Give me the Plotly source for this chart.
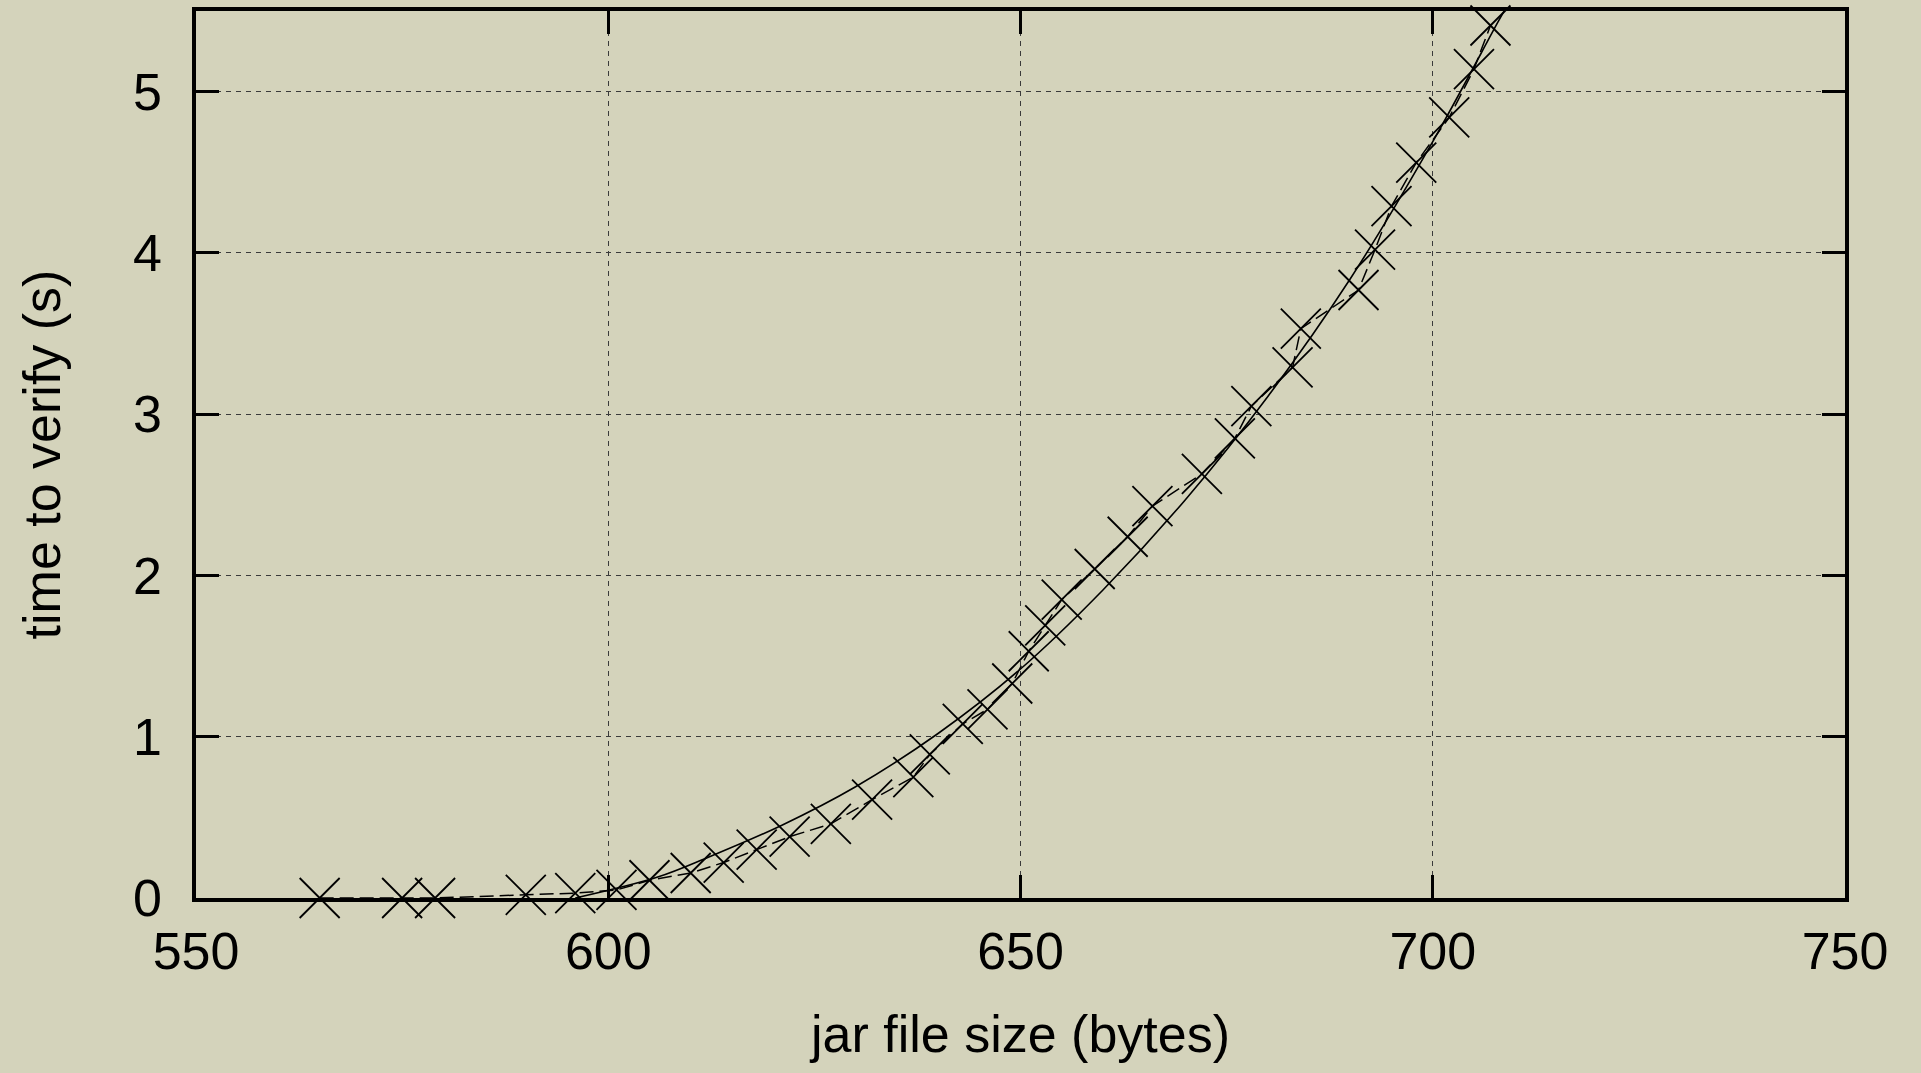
import plotly.graph_objects as go

# measured data (jar file size in bytes, time to verify in s)
size_bytes = [565, 575, 579, 590, 596, 601, 605, 610, 614, 618, 622, 627, 632, 637, 639,
              643, 646, 649, 651, 653, 655, 659, 663, 666, 672, 676, 678, 683, 684, 691,
              693, 695, 698, 702, 705, 707]
verify_s = [0, 0, 0, 0.02, 0.03, 0.05, 0.11, 0.155, 0.22, 0.30, 0.38, 0.46, 0.61, 0.75, 0.89,
            1.08, 1.17, 1.33, 1.53, 1.69, 1.85, 2.04, 2.24, 2.43, 2.63, 2.85, 3.05, 3.29, 3.53, 3.77,
            4.02, 4.29, 4.56, 4.84, 5.14, 5.41]

# fitted curve
fit_x = [596, 606, 612, 621, 630, 640, 650, 660, 670, 680, 690, 700, 708, 709]
fit_y = [0, 0.13, 0.25, 0.45, 0.69, 1.02, 1.42, 1.91, 2.47, 3.11, 3.84, 4.69, 5.44, 5.53]

x_ticks = [550, 600, 650, 700, 750]
y_ticks = [0, 1, 2, 3, 4, 5]

BG = "#d4d3bb"
FONT = "Liberation Sans, Arial, Helvetica, sans-serif"

fig = go.Figure()
fig.add_trace(go.Scatter(
    x=size_bytes, y=verify_s, mode="lines+markers",
    line=dict(color="black", width=1.5, dash="14px,6px"),
    marker=dict(symbol="x-thin-open", size=40, color="black",
                line=dict(color="black", width=1.8)),
    cliponaxis=False,
    showlegend=False,
))
fig.add_trace(go.Scatter(
    x=fit_x, y=fit_y, mode="lines",
    line=dict(color="black", width=1.6, shape="spline", smoothing=1.0),
    showlegend=False,
))

axis_common = dict(
    showline=True, linecolor="black", linewidth=3.5, mirror="allticks",
    ticks="inside", ticklen=23, tickwidth=3, tickcolor="black",
    showgrid=True, gridcolor="#3a3a3a", gridwidth=1, griddash="5px,5px",
    zeroline=False,
    tickfont=dict(family=FONT, size=52, color="black"),
    automargin=False,
)

fig.update_xaxes(range=[550, 750], tickvals=x_ticks, ticktext=[str(v) for v in x_ticks],
                 ticklabelstandoff=5,
                 title=dict(text="jar file size (bytes)", font=dict(family=FONT, size=52, color="black"),
                            standoff=37),
                 **axis_common)
fig.update_yaxes(range=[0, 5.5], tickvals=y_ticks, ticktext=[str(v) for v in y_ticks],
                 ticklabelstandoff=20,
                 title=dict(text="time to verify (s)", font=dict(family=FONT, size=52, color="black"),
                            standoff=57),
                 **axis_common)

fig.update_layout(
    width=1921, height=1073,
    margin=dict(l=196, r=76, t=11, b=175),
    paper_bgcolor=BG, plot_bgcolor=BG,
    font=dict(family=FONT, color="black"),
)

fig.write_html("out.html", config={"displayModeBar": False},
               post_script="document.body.style.margin='0';document.body.style.background='%s';" % BG)
